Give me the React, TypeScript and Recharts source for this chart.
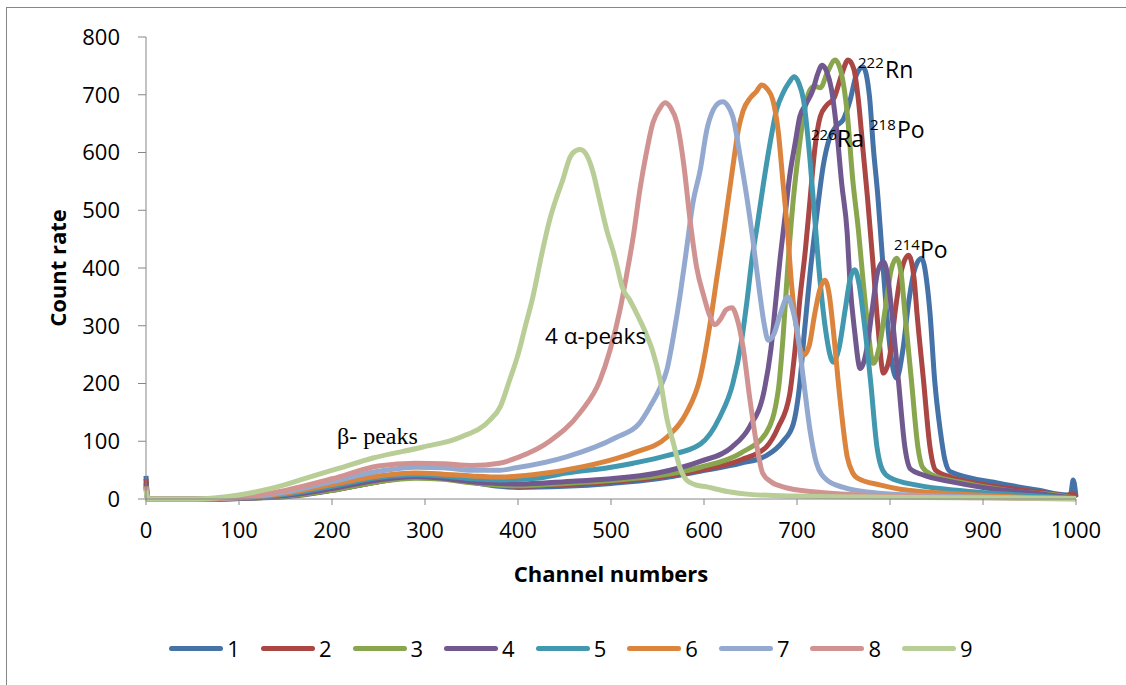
import { LineChart, Line, XAxis, YAxis, Legend } from 'recharts'

const font = '"Open Sans", sans-serif'

const names = ['1', '2', '3', '4', '5', '6', '7', '8', '9']
const colors = ['#4572A7', '#AA4643', '#89A54E', '#71588F', '#4198AF', '#DB843D', '#93A9CF', '#D19392', '#B9CD96']
const xTicks = [0, 100, 200, 300, 400, 500, 600, 700, 800, 900, 1000]
const yTicks = [0, 100, 200, 300, 400, 500, 600, 700, 800]

// [channel, count]
const s1: [number, number][] = [
  [0, 40], [2, 0], [60, 0], [100, 1], [150, 4], [200, 15], [250, 30], [290, 38], [320, 35], [350, 29], [380, 22], [400, 20],
  [450, 22], [500, 27], [550, 35], [596, 48], [640, 62], [667, 75], [685, 100], [696, 130], [703, 200], [708, 290],
  [714, 390], [721, 488], [728, 575], [735, 625], [742, 645], [750, 658], [757, 690], [764, 735], [771, 748], [778, 696],
  [782, 610], [787, 523], [791, 436], [795, 350], [800, 262], [807, 209], [814, 260], [820, 340], [827, 400], [834, 417],
  [840, 370], [843, 322], [848, 206], [854, 119], [859, 68], [865, 47], [918, 27], [960, 15], [990, 7], [994, 7],
  [997, 33], [1000, 4],
]
const s2: [number, number][] = [
  [0, 35], [2, 0], [60, 0], [100, 1], [150, 5], [200, 15], [250, 30], [290, 38], [320, 36], [350, 30], [380, 24], [400, 22],
  [450, 25], [500, 30], [550, 38], [596, 50], [640, 68], [667, 90], [680, 125], [692, 180], [698, 260], [703, 345],
  [709, 431], [714, 518], [719, 604], [725, 662], [732, 682], [740, 695], [748, 735], [755, 760], [761, 745], [766, 691],
  [771, 604], [776, 518], [782, 402], [787, 300], [793, 218], [800, 250], [806, 330], [813, 400], [820, 422], [826, 380],
  [829, 322], [836, 206], [843, 90], [849, 50], [865, 38], [900, 25], [960, 12], [990, 6], [997, 9], [1000, 2],
]
const s3: [number, number][] = [
  [0, 25], [2, 0], [60, 0], [100, 1], [150, 5], [200, 15], [250, 30], [290, 36], [320, 34], [350, 28], [380, 24], [400, 23],
  [450, 27], [500, 32], [550, 40], [596, 55], [640, 80], [667, 115], [680, 190], [685, 280], [690, 400], [696, 518],
  [701, 592], [707, 662], [713, 705], [719, 715], [725, 712], [733, 740], [741, 760], [748, 735], [754, 668], [760, 552],
  [766, 466], [771, 379], [776, 300], [782, 235], [788, 260], [795, 330], [801, 395], [807, 417], [812, 390], [816, 322],
  [823, 206], [830, 90], [835, 55], [845, 42], [880, 28], [930, 14], [990, 4], [1000, 1],
]
const s4: [number, number][] = [
  [0, 28], [2, 0], [60, 0], [100, 1], [150, 6], [200, 18], [250, 33], [290, 39], [320, 36], [350, 30], [380, 27], [400, 26],
  [450, 30], [500, 35], [550, 45], [596, 65], [630, 90], [649, 125], [665, 190], [672, 260], [677, 340], [682, 419],
  [687, 488], [692, 558], [698, 616], [703, 662], [710, 685], [717, 708], [722, 735], [727, 751], [732, 740], [737, 710],
  [743, 634], [748, 547], [754, 460], [757, 374], [762, 290], [768, 226], [775, 260], [781, 330], [787, 395], [793, 411],
  [798, 380], [802, 322], [809, 206], [816, 90], [822, 52], [835, 42], [865, 30], [900, 20], [960, 9], [1000, 1],
]
const s5: [number, number][] = [
  [0, 22], [2, 0], [60, 0], [100, 2], [150, 8], [200, 22], [250, 37], [290, 42], [320, 40], [350, 35], [381, 33], [420, 36],
  [452, 45], [500, 55], [524, 62], [560, 75], [596, 95], [617, 142], [631, 200], [640, 270], [646, 340], [652, 420],
  [657, 471], [664, 547], [671, 616], [678, 674], [685, 703], [691, 720], [697, 731], [702, 720], [707, 691], [714, 587],
  [719, 488], [725, 374], [731, 290], [739, 237], [745, 260], [752, 330], [757, 380], [762, 397], [767, 370], [771, 322],
  [779, 206], [786, 90], [792, 50], [800, 37], [829, 24], [880, 14], [950, 6], [1000, 1],
]
const s6: [number, number][] = [
  [0, 22], [2, 0], [60, 0], [100, 2], [150, 10], [200, 25], [250, 40], [290, 45], [320, 43], [350, 40], [381, 38], [416, 42],
  [470, 56], [524, 80], [560, 107], [581, 149], [596, 211], [606, 298], [614, 385], [621, 460], [626, 518], [631, 575],
  [637, 640], [642, 672], [650, 695], [656, 705], [662, 717], [668, 710], [674, 691], [680, 634], [685, 547], [690, 460],
  [694, 374], [699, 300], [707, 249], [713, 265], [719, 320], [725, 365], [730, 379], [735, 350], [739, 293], [746, 177],
  [754, 73], [760, 45], [765, 36], [790, 24], [811, 17], [870, 9], [930, 4], [1000, 1],
]
const s7: [number, number][] = [
  [0, 20], [2, 0], [60, 0], [100, 2], [150, 12], [200, 30], [250, 48], [290, 55], [320, 54], [350, 50], [381, 50], [398, 54],
  [452, 73], [506, 107], [530, 130], [542, 160], [552, 190], [560, 223], [568, 290], [574, 350], [581, 430], [588, 512],
  [596, 570], [603, 639], [610, 674], [615, 685], [620, 688], [626, 680], [631, 662], [639, 592], [646, 523], [653, 443],
  [660, 355], [665, 300], [669, 275], [675, 285], [682, 320], [690, 350], [695, 330], [700, 293], [707, 206], [714, 119],
  [721, 62], [732, 33], [750, 20], [775, 12], [850, 5], [1000, 1],
]
const s8: [number, number][] = [
  [0, 20], [2, 0], [60, 0], [100, 3], [150, 15], [200, 35], [250, 57], [290, 62], [320, 61], [350, 58], [380, 62], [400, 72],
  [434, 100], [467, 150], [488, 205], [499, 258], [510, 330], [517, 390], [524, 455], [531, 535], [538, 599], [545, 651],
  [552, 675], [558, 686], [564, 678], [571, 651], [578, 582], [585, 483], [592, 402], [600, 350], [606, 318], [612, 302],
  [618, 312], [624, 328], [630, 331], [636, 310], [642, 263], [649, 177], [657, 90], [663, 45], [672, 30], [685, 21],
  [720, 12], [800, 5], [900, 2], [1000, 0],
]
const s9: [number, number][] = [
  [0, 15], [2, 0], [50, 0], [100, 7], [150, 25], [166, 33], [209, 54], [244, 71], [298, 90], [338, 107], [370, 137],
  [381, 160], [391, 206], [400, 250], [408, 300], [416, 350], [425, 420], [434, 483], [441, 520], [448, 552], [456, 592],
  [462, 603], [467, 605], [474, 595], [481, 564], [486, 530], [491, 495], [496, 462], [502, 431], [507, 400], [512, 367],
  [520, 345], [531, 310], [538, 285], [545, 255], [553, 205], [560, 140], [567, 97], [574, 55], [581, 33], [590, 25],
  [603, 21], [625, 13], [649, 8], [700, 5], [800, 3], [900, 2], [1000, 1],
]
const series = [s1, s2, s3, s4, s5, s6, s7, s8, s9]

const tickStyle = { fill: '#000', fontSize: 22, fontFamily: font }

function LegendBox() {
  return (
    <div style={{ display: 'flex', justifyContent: 'center', alignItems: 'center', height: 40, paddingLeft: 16, fontFamily: font, fontSize: 22, color: '#000' }}>
      {names.map((n, i) => (
        <div key={n} style={{ display: 'flex', alignItems: 'center', marginRight: i < names.length - 1 ? 21 : 0 }}>
          <div style={{ width: 54, height: 5, borderRadius: 3, backgroundColor: colors[i], marginRight: 4 }} />
          <span>{n}</span>
        </div>
      ))}
    </div>
  )
}

export default function App() {
  return (
    <div style={{ position: 'absolute', left: 0, top: 0, width: 1126, height: 685, background: '#fff' }}>
      <div style={{ position: 'absolute', left: 6, top: 7, right: 0, bottom: 0, borderLeft: '1px solid #878787', borderTop: '1px solid #878787' }} />
      <LineChart width={1126} height={685} margin={{ top: 37, right: 50, left: 20, bottom: 46 }}>
        <XAxis type="number" dataKey="x" domain={[0, 1000]} ticks={xTicks} stroke="#868686" tickSize={6} tickMargin={17}
          height={100} tick={tickStyle}
          label={{ value: 'Channel numbers', position: 'center', dy: 25, style: { fontWeight: 'bold', fontSize: 22, fontFamily: font, fill: '#000' } }} />
        <YAxis type="number" domain={[0, 800]} ticks={yTicks} stroke="#868686" tickSize={8} tickMargin={18} width={126}
          tick={tickStyle}
          label={{ value: 'Count rate', angle: -90, position: 'center', dx: -25, style: { fontWeight: 'bold', fontSize: 22, fontFamily: font, fill: '#000' } }} />
        <Legend verticalAlign="bottom" height={40} content={<LegendBox />} wrapperStyle={{ top: 628, left: 0, width: 1126 }} />
        {series.map((s, i) => (
          <Line key={names[i]} data={s.map(([x, y]) => ({ x, y }))} dataKey="y" name={names[i]} type="monotone"
            stroke={colors[i]} strokeWidth={5} dot={false} activeDot={false} isAnimationActive={false} />
        ))}
      </LineChart>
      <svg width={1126} height={685} style={{ position: 'absolute', left: 0, top: 0, pointerEvents: 'none' }}>
        <g fontFamily={font} fill="#000">
          <text x={858} y={68} fontSize={15}>222</text>
          <text x={885} y={78} fontSize={23}>Rn</text>
          <text x={811} y={140} fontSize={15}>226</text>
          <text x={837} y={147} fontSize={23}>Ra</text>
          <text x={870} y={130} fontSize={15}>218</text>
          <text x={897} y={138} fontSize={23}>Po</text>
          <text x={894} y={250} fontSize={15}>214</text>
          <text x={920} y={258} fontSize={23}>Po</text>
          <text x={545} y={344} fontSize={22.5}>4 α-peaks</text>
        </g>
        <text x={337} y={444} fontSize={24} fontFamily='"Liberation Serif", serif' fill="#000">β- peaks</text>
      </svg>
    </div>
  )
}
